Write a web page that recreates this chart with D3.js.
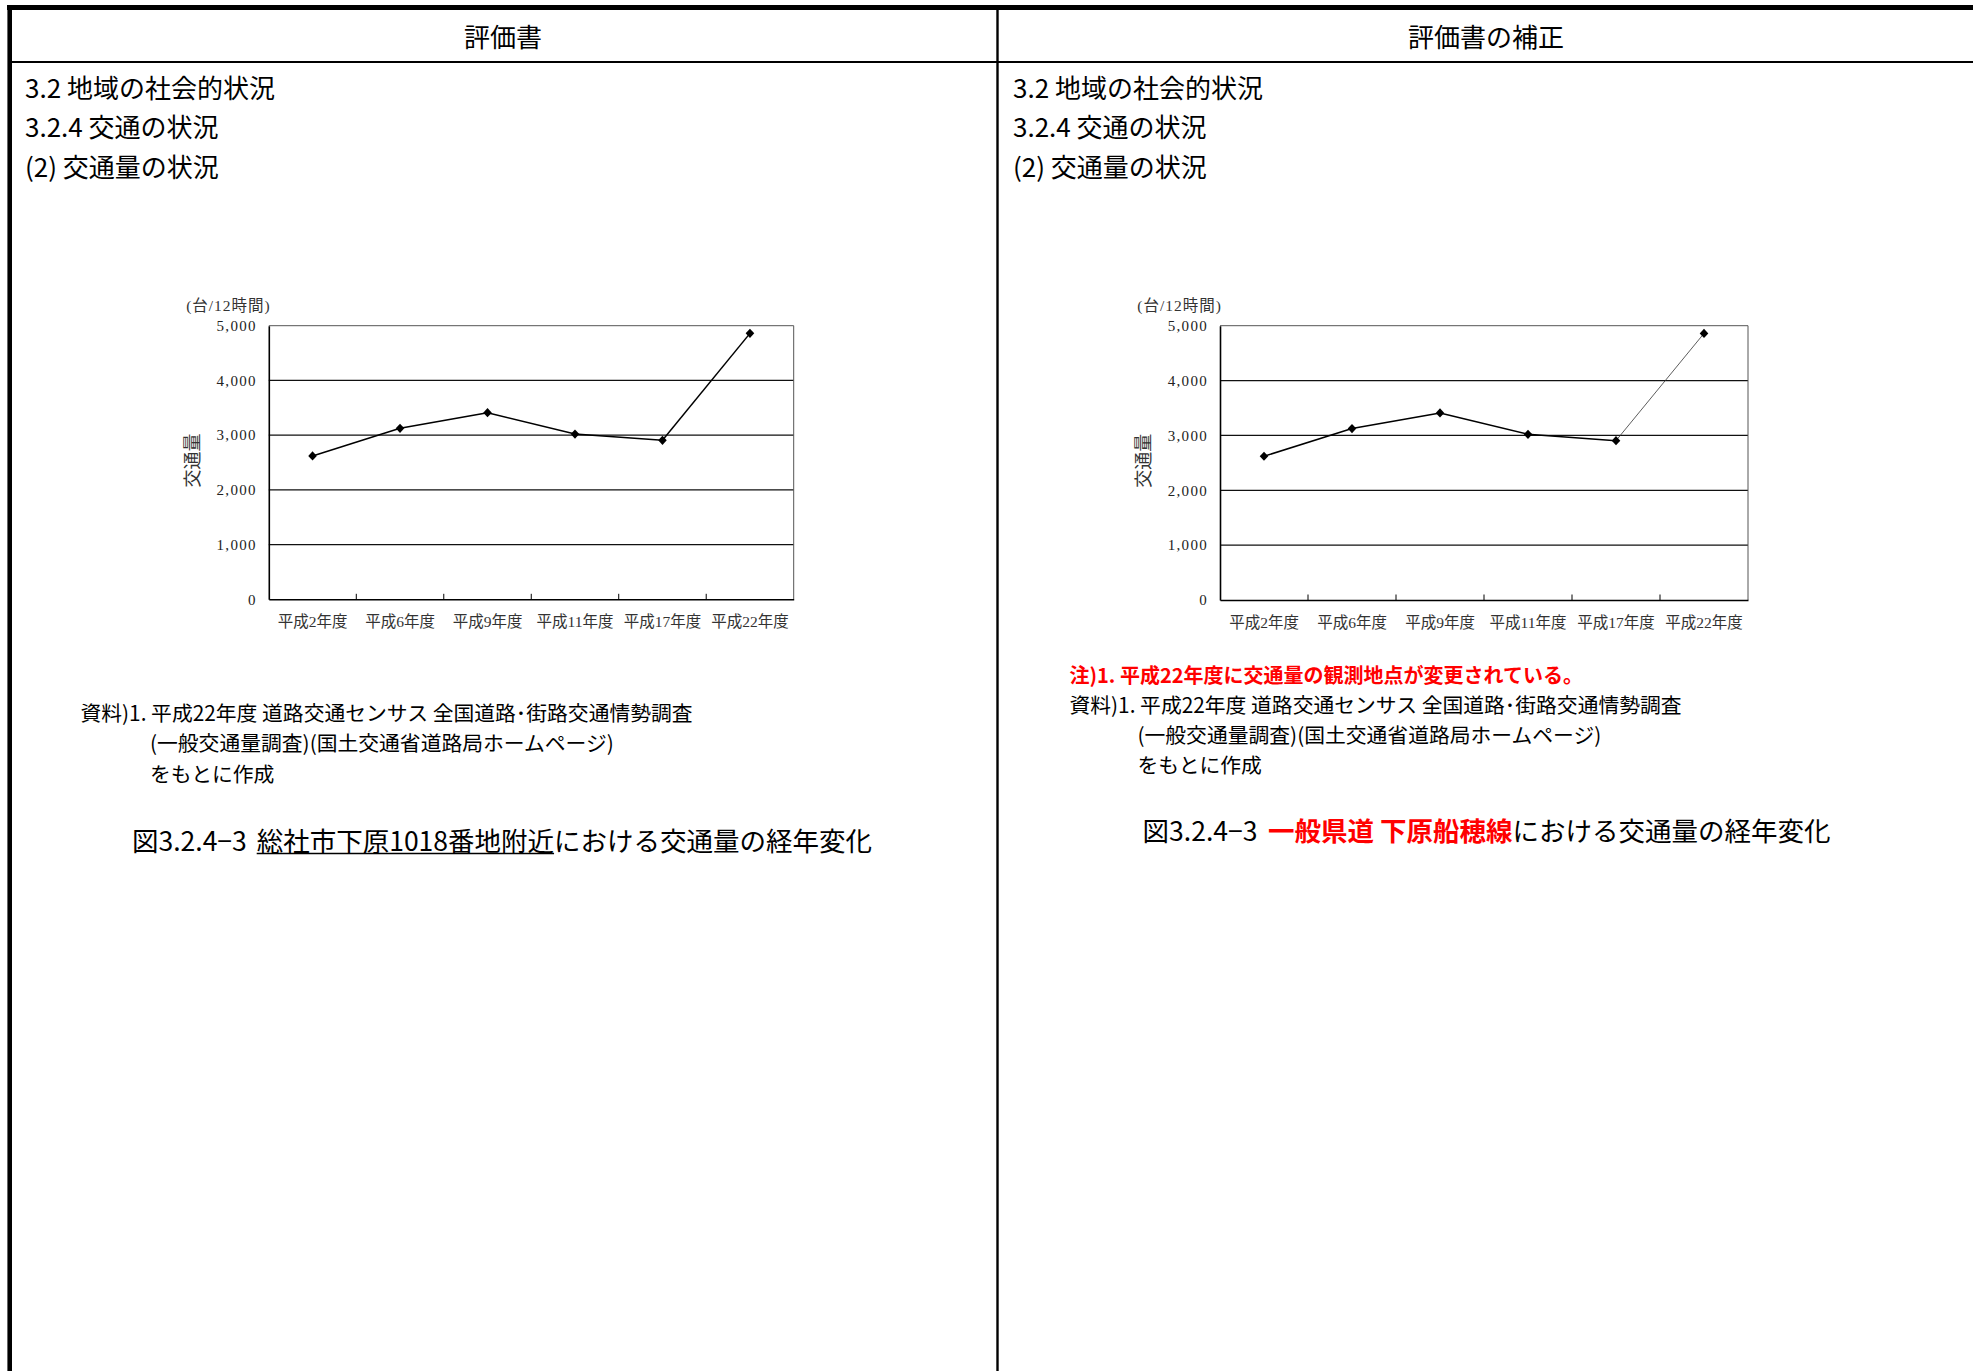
<!DOCTYPE html>
<html>
<head>
<meta charset="utf-8">
<script src="https://cdn.jsdelivr.net/npm/d3@7"></script>
<style>
  html, body { margin: 0; padding: 0; background: #fff; }
  svg { display: block; }
  text { font-family: "Noto Sans CJK JP", "Noto Sans", sans-serif; }
  .chart text { font-family: "Liberation Serif", "Noto Sans CJK JP", serif; }
</style>
</head>
<body>
<svg id="page" width="1973" height="1371"></svg>
<script>
// Survey years (x categories) and 12-hour traffic volume (vehicles)
const years = ["平成2年度", "平成6年度", "平成9年度", "平成11年度", "平成17年度", "平成22年度"];
const traffic = [2620, 3125, 3410, 3020, 2905, 4860];
const yTicks = [0, 1000, 2000, 3000, 4000, 5000];
const yMax = 5000;
const unitLabel = "(台/12時間)";
const yTitle = "交通量";

const svg = d3.select("#page");

// ---- page frame: two-column comparison table ----
const frame = svg.append("g");
frame.append("line").attr("x1", 7).attr("x2", 1973).attr("y1", 7.5).attr("y2", 7.5)
  .attr("stroke", "#000").attr("stroke-width", 5);
frame.append("line").attr("x1", 9.7).attr("x2", 9.7).attr("y1", 5).attr("y2", 1371)
  .attr("stroke", "#000").attr("stroke-width", 4.6);
frame.append("line").attr("x1", 997.5).attr("x2", 997.5).attr("y1", 5).attr("y2", 1371)
  .attr("stroke", "#000").attr("stroke-width", 2.4);
frame.append("line").attr("x1", 9).attr("x2", 1973).attr("y1", 62).attr("y2", 62)
  .attr("stroke", "#000").attr("stroke-width", 2);

function txt(x, y, s, size, opts = {}) {
  return svg.append("text")
    .attr("x", x).attr("y", y)
    .attr("dominant-baseline", "central")
    .attr("text-anchor", opts.anchor || "start")
    .attr("font-size", size)
    .attr("font-weight", opts.weight || "normal")
    .attr("fill", opts.fill || "#000")
    .text(s);
}

// column headers
txt(503, 35, "評価書", 26, { anchor: "middle" });
txt(1486, 35, "評価書の補正", 26, { anchor: "middle" });

// section headings in both columns
[25, 1013].forEach(x0 => {
  txt(x0, 86, "3.2 地域の社会的状況", 26);
  txt(x0, 125.5, "3.2.4 交通の状況", 26);
  txt(x0, 165, "(2) 交通量の状況", 26);
});

// ---- line chart ----
function drawChart(o) {
  const g = svg.append("g").attr("class", "chart");
  const x = d3.scaleBand().domain(years).range([o.left, o.right]);
  const y = d3.scaleLinear().domain([0, yMax]).range([o.bottom, o.top]);
  const cx = d => x(d) + x.bandwidth() / 2;

  // horizontal gridlines
  g.selectAll("line.grid")
    .data(yTicks.filter(t => t > 0 && t < yMax))
    .join("line").attr("class", "grid")
    .attr("x1", o.left).attr("x2", o.right)
    .attr("y1", d => y(d)).attr("y2", d => y(d))
    .attr("stroke", "#111").attr("stroke-width", 1.3);

  // plot frame (top and right)
  g.append("line").attr("x1", o.left).attr("x2", o.right)
    .attr("y1", y(yMax)).attr("y2", y(yMax))
    .attr("stroke", "#555").attr("stroke-width", 1);
  g.append("line").attr("x1", o.right).attr("x2", o.right)
    .attr("y1", y(yMax)).attr("y2", y(0))
    .attr("stroke", "#555").attr("stroke-width", 1);

  // y axis
  const ya = g.append("g").attr("transform", `translate(${o.left},0)`)
    .call(d3.axisLeft(y).tickValues(yTicks).tickFormat(d3.format(","))
      .tickSize(0).tickSizeOuter(0).tickPadding(12));
  ya.select(".domain").attr("stroke", "#000").attr("stroke-width", 1.6);
  ya.selectAll("text").attr("font-size", 15).attr("letter-spacing", 1.3)
    .attr("fill", "#222");

  // x axis with category labels
  const xa = g.append("g").attr("transform", `translate(0,${o.bottom})`)
    .call(d3.axisBottom(x).tickSize(0).tickSizeOuter(0));
  xa.select(".domain").attr("stroke", "#000").attr("stroke-width", 1.6);
  xa.selectAll("text").attr("dy", null).attr("y", 22)
    .attr("dominant-baseline", "central").attr("font-size", 15.5).attr("fill", "#333");

  // inward tick marks at category boundaries
  g.selectAll("line.xtick").data(years.slice(1)).join("line").attr("class", "xtick")
    .attr("x1", d => x(d)).attr("x2", d => x(d))
    .attr("y1", o.bottom).attr("y2", o.bottom - 5.5)
    .attr("stroke", "#000").attr("stroke-width", 1);

  // unit label and axis title
  g.append("text").attr("x", o.left + 2).attr("y", o.top - 20)
    .attr("text-anchor", "end").attr("dominant-baseline", "central")
    .attr("font-size", 15.5).attr("letter-spacing", 1).attr("fill", "#333").text(unitLabel);
  g.append("text")
    .attr("transform", `translate(${o.left - 76},${(o.top + o.bottom) / 2 - 2}) rotate(-90)`)
    .attr("text-anchor", "middle").attr("dominant-baseline", "central")
    .attr("font-size", 18).attr("fill", "#333").text(yTitle);

  // series line, segment by segment
  const pts = years.map((yr, i) => ({ yr, v: traffic[i] }));
  const line = d3.line().x(d => cx(d.yr)).y(d => y(d.v));
  for (let i = 0; i < pts.length - 1; i++) {
    const thin = o.thinLast && i === pts.length - 2;
    g.append("path").attr("d", line([pts[i], pts[i + 1]]))
      .attr("fill", "none")
      .attr("stroke", thin ? "#333" : "#000")
      .attr("stroke-width", thin ? 0.8 : 1.5);
  }

  // diamond markers
  g.selectAll("path.mk").data(pts).join("path").attr("class", "mk")
    .attr("transform", d => `translate(${cx(d.yr)},${y(d.v)})`)
    .attr("d", "M0,-4.6L4.3,0L0,4.6L-4.3,0Z")
    .attr("fill", "#000");
}

drawChart({ left: 268.8, right: 793.7, top: 325.7, bottom: 599.3, thinLast: false });
drawChart({ left: 1220, right: 1748, top: 325.7, bottom: 600, thinLast: true });

// ---- notes, sources and captions ----
// left column
txt(80.5, 712, "資料)1. 平成22年度 道路交通センサス 全国道路･街路交通情勢調査", 20.8);
txt(150, 742, "(一般交通量調査)(国土交通省道路局ホームページ)", 20.8);
txt(150, 772.5, "をもとに作成", 20.8);

const capL = svg.append("text").attr("x", 132).attr("y", 839)
  .attr("dominant-baseline", "central").attr("font-size", 26.5).attr("fill", "#000");
capL.append("tspan").text("図3.2.4−3");
const place = capL.append("tspan").attr("x", 256.7).text("総社市下原1018番地附近");
capL.append("tspan").text("における交通量の経年変化");
const ulen = place.node().getComputedTextLength();
svg.append("line").attr("x1", 256.7).attr("x2", 256.7 + ulen)
  .attr("y1", 853.5).attr("y2", 853.5).attr("stroke", "#000").attr("stroke-width", 1.6);

// right column
txt(1069.5, 674.5, "注)1. 平成22年度に交通量の観測地点が変更されている。", 20,
  { weight: "bold", fill: "#ff0000" });
txt(1069.5, 703.5, "資料)1. 平成22年度 道路交通センサス 全国道路･街路交通情勢調査", 20.8);
txt(1137.5, 733.5, "(一般交通量調査)(国土交通省道路局ホームページ)", 20.8);
txt(1137.5, 764, "をもとに作成", 20.8);

const capR = svg.append("text").attr("x", 1142.6).attr("y", 829)
  .attr("dominant-baseline", "central").attr("font-size", 26.5).attr("fill", "#000");
capR.append("tspan").text("図3.2.4−3");
capR.append("tspan").attr("x", 1268).attr("fill", "#ff0000").attr("font-weight", "bold")
  .text("一般県道 下原船穂線");
capR.append("tspan").text("における交通量の経年変化");
</script>
</body>
</html>
